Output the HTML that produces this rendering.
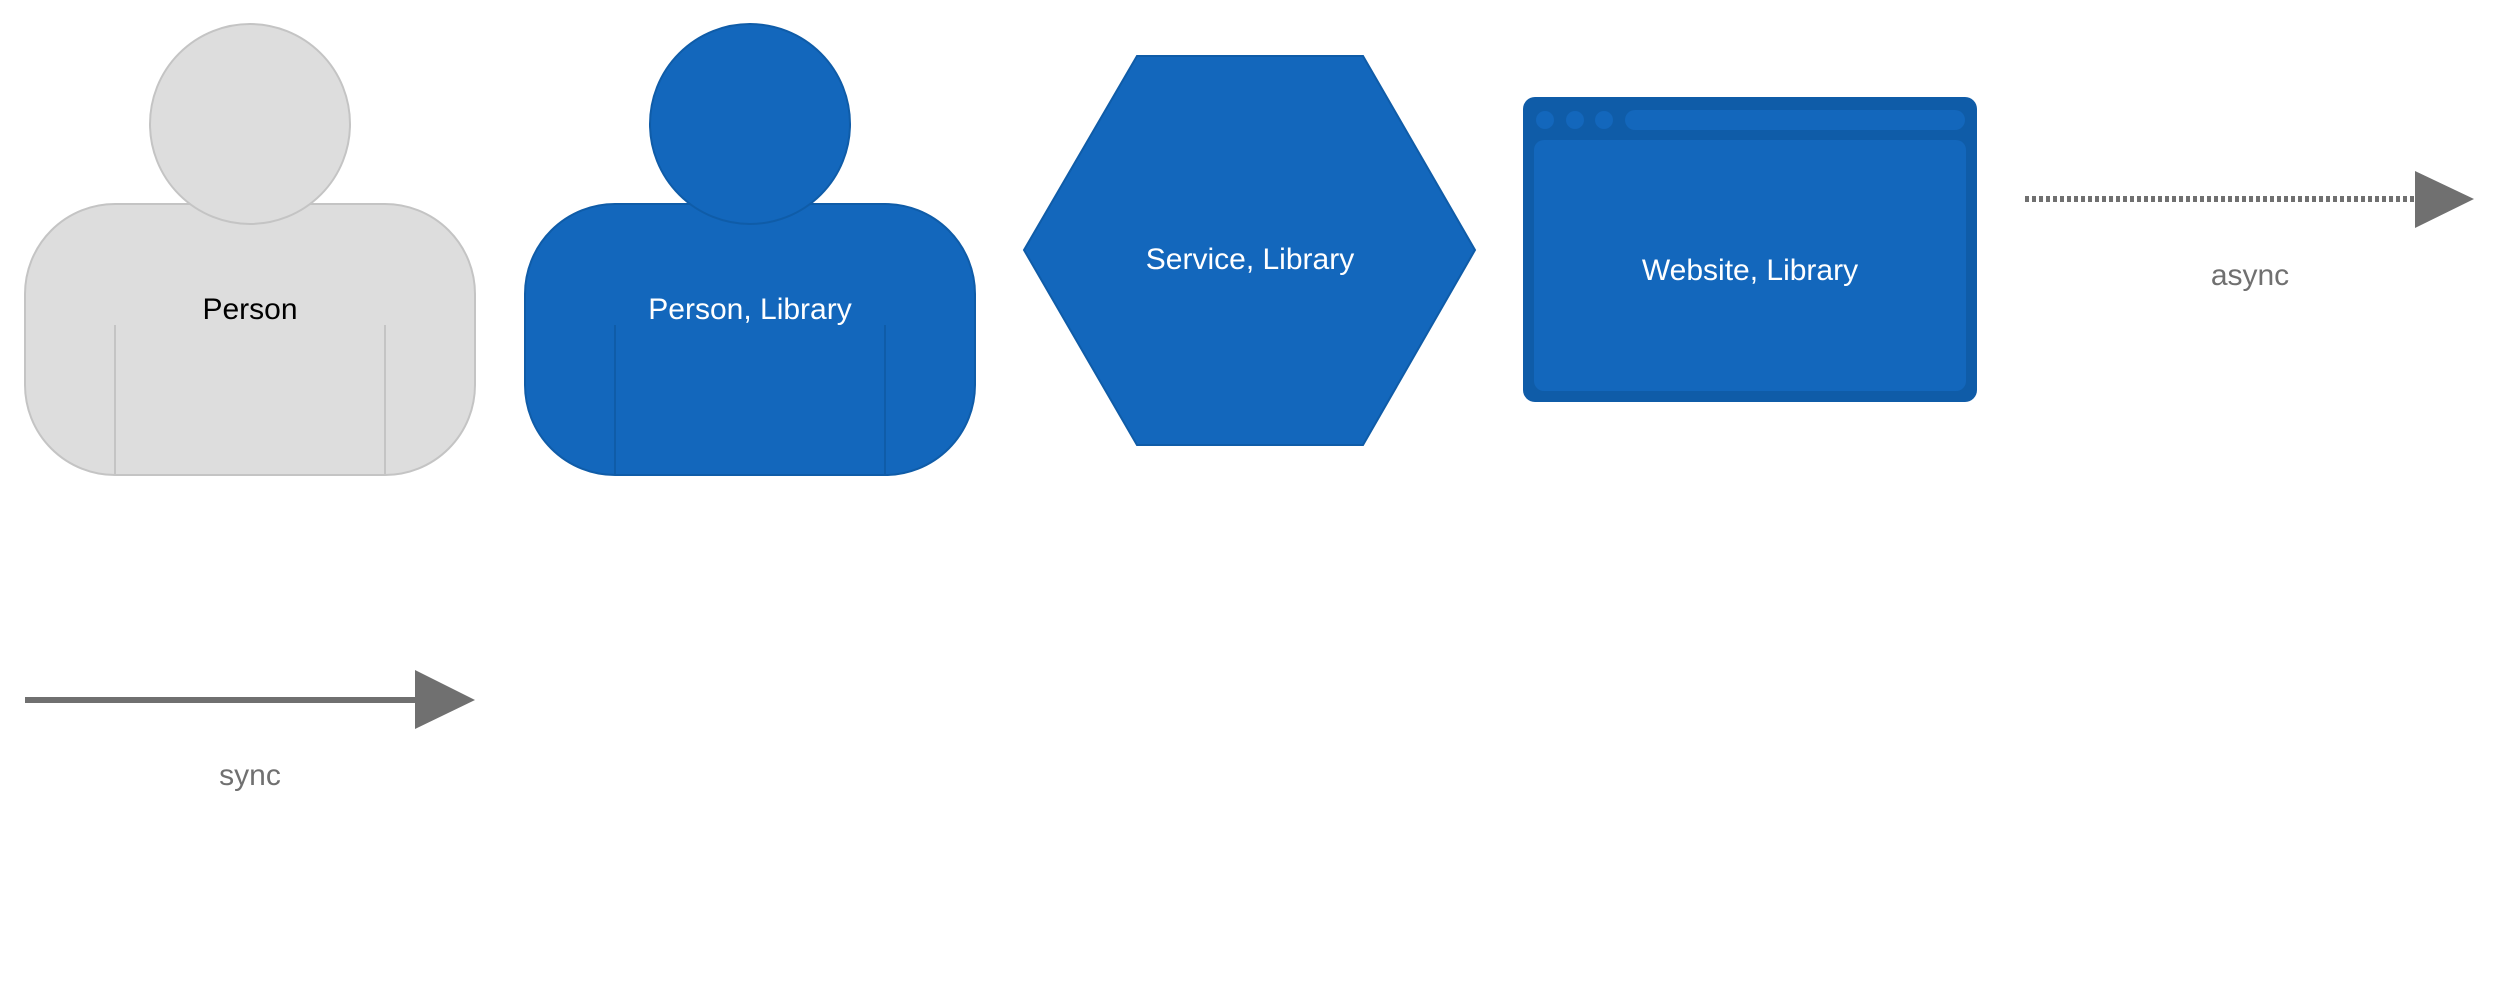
<!DOCTYPE html>
<html><head><meta charset="utf-8"><style>
html,body{margin:0;padding:0;background:#fff;width:2500px;height:1000px;overflow:hidden}
svg text{font-family:"Liberation Sans",sans-serif;font-size:30px;text-anchor:middle;dominant-baseline:middle}
</style></head><body>
<svg width="2500" height="1000" viewBox="0 0 2500 1000" xmlns="http://www.w3.org/2000/svg">
<!-- Person -->
<rect x="25" y="204" width="450" height="271" rx="90" fill="#dddddd" stroke="#c4c4c4" stroke-width="2"/>
<line x1="115" y1="325" x2="115" y2="475" stroke="#c4c4c4" stroke-width="2"/>
<line x1="385" y1="325" x2="385" y2="475" stroke="#c4c4c4" stroke-width="2"/>
<circle cx="250" cy="124" r="100" fill="#dddddd" stroke="#c4c4c4" stroke-width="2"/>
<text x="250" y="311" fill="#000">Person</text>
<!-- Person Library -->
<rect x="525" y="204" width="450" height="271" rx="90" fill="#1367bc" stroke="#0f5ca8" stroke-width="2"/>
<line x1="615" y1="325" x2="615" y2="475" stroke="#0f5ca8" stroke-width="2"/>
<line x1="885" y1="325" x2="885" y2="475" stroke="#0f5ca8" stroke-width="2"/>
<circle cx="750" cy="124" r="100" fill="#1367bc" stroke="#0f5ca8" stroke-width="2"/>
<text x="750" y="311" fill="#fff">Person, Library</text>
<!-- Hexagon -->
<polygon points="1024,250 1137,56 1363,56 1475,250 1363,445 1137,445" fill="#1367bc" stroke="#0f5ca8" stroke-width="2"/>
<text x="1250" y="261" fill="#fff">Service, Library</text>
<!-- Website -->
<rect x="1523" y="97" width="454" height="305" rx="12" fill="#0f5ca8"/>
<rect x="1534" y="140" width="432" height="251" rx="10" fill="#1367bc"/>
<circle cx="1545" cy="120" r="9" fill="#1367bc"/>
<circle cx="1575" cy="120" r="9" fill="#1367bc"/>
<circle cx="1604" cy="120" r="9" fill="#1367bc"/>
<rect x="1625" y="110" width="340" height="20" rx="10" fill="#1367bc"/>
<text x="1750" y="272" fill="#fff">Website, Library</text>
<!-- async -->
<line x1="2025" y1="199" x2="2416" y2="199" stroke="#707070" stroke-width="6" stroke-dasharray="4,3"/>
<polygon points="2415,171 2474,199 2415,228" fill="#707070"/>
<text x="2250" y="277" fill="#707070">async</text>
<!-- sync -->
<line x1="25" y1="700" x2="416" y2="700" stroke="#707070" stroke-width="6"/>
<polygon points="415,670 475,700 415,729" fill="#707070"/>
<text x="250" y="777" fill="#707070">sync</text>
</svg>
</body></html>
